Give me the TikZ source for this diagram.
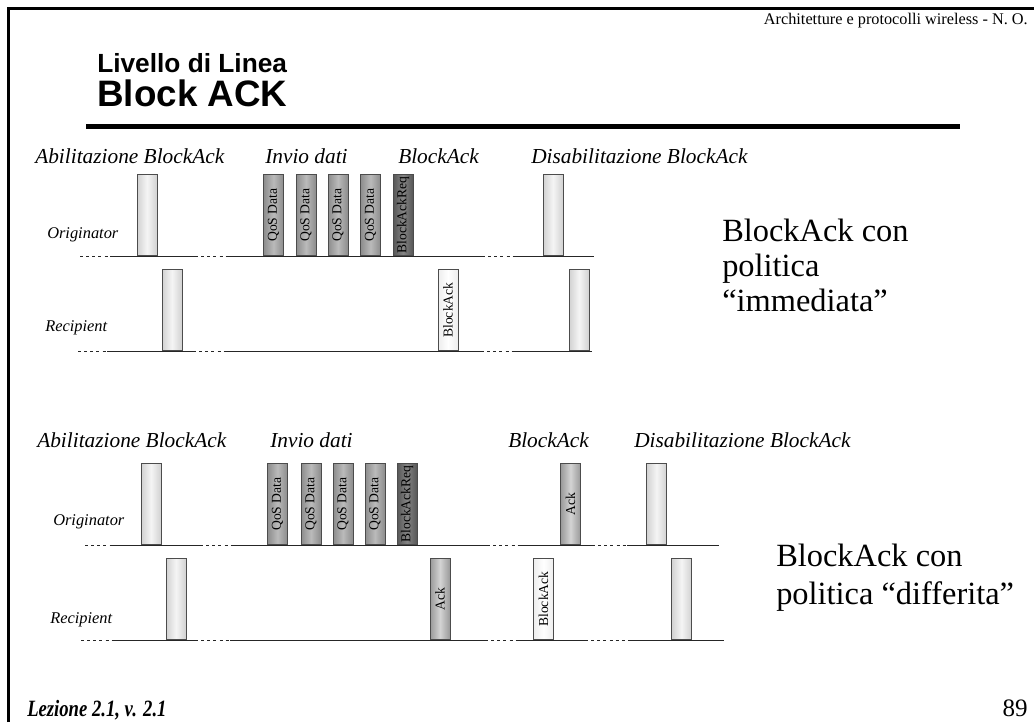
\documentclass[tikz,border=0pt]{standalone}
\usepackage{fontspec}
\setmainfont{Liberation Serif}
\newfontfamily\arialf{Liberation Sans}
\begin{document}
\begin{tikzpicture}[x=0.75pt,y=-0.75pt,
  frameline/.style={line width=1.9pt},
  tl/.style={line width=0.75pt, black!85},
  gapline/.style={tl, dash pattern=on 2.3pt off 2.3pt},
  pkt/.style={draw=black!70, line width=0.6pt, minimum width=15pt, minimum height=60.75pt, inner sep=0pt, anchor=south, font=\fontsize{10.2}{11}\selectfont},
  lightpkt/.style={pkt, left color=black!18, right color=black!18, middle color=black!4},
  qospkt/.style={pkt, left color=black!45, right color=black!45, middle color=black!27},
  barpkt/.style={pkt, left color=black!66, right color=black!66, middle color=black!48},
  whitepkt/.style={pkt, left color=black!7, right color=black!7, middle color=white},
  ackpkt/.style={pkt, left color=black!40, right color=black!40, middle color=black!17},
  sect/.style={anchor=base west, inner sep=0pt, font=\fontsize{16}{19}\selectfont\itshape},
  role/.style={anchor=west, inner sep=0pt, font=\fontsize{12.3}{14}\selectfont\itshape},
  big/.style={anchor=base west, inner sep=0pt, font=\fontsize{24.3}{28}\selectfont}
]
\useasboundingbox (0,0) rectangle (1034,722);
\fill[white] (0,0) rectangle (1034,722);
\draw[frameline] (8.5,722) -- (8.5,8.5) -- (1034,8.5);

% header and title
\node[anchor=base east, inner sep=0pt, font=\fontsize{12.2}{14}\selectfont] (hdr) at (1028,24) {Architetture e protocolli wireless - N. O.};
\node[anchor=base west, inner sep=0pt, font=\arialf\bfseries\fontsize{19.7}{22}\selectfont] (t1) at (97,72) {Livello di Linea};
\node[anchor=base west, inner sep=0pt, font=\arialf\bfseries\fontsize{27.6}{30}\selectfont] (t2) at (97,106) {Block ACK};
\draw[line width=3.75pt] (86,126.5) -- (960,126.5);

% ---------- panel 1 ----------
\node[sect] (a1) at (35,163) {Abilitazione BlockAck};
\node[sect] (i1) at (265,163) {Invio dati};
\node[sect] (b1) at (398,163) {BlockAck};
\node[sect] (d1) at (531,163) {Disabilitazione BlockAck};
\node[role] (o1) at (47,235) {Originator};
\node[role] (r1) at (45,328) {Recipient};

\draw[gapline] (80,256) -- (110,256);
\draw[tl] (110,256) -- (195,256);
\draw[gapline] (195,256) -- (228,256);
\draw[tl] (228,256) -- (482,256);
\draw[gapline] (482,256) -- (516,256);
\draw[tl] (516,256) -- (594,256);

\draw[gapline] (78,351) -- (107,351);
\draw[tl] (107,351) -- (193,351);
\draw[gapline] (193,351) -- (226,351);
\draw[tl] (226,351) -- (481,351);
\draw[gapline] (481,351) -- (512,351);
\draw[tl] (512,351) -- (592,351);

\node[lightpkt] (p1a) at (147,256) {};
\node[qospkt] (p1q1) at (273.5,256) {\rotatebox{90}{QoS Data}};
\node[qospkt] (p1q2) at (306,256) {\rotatebox{90}{QoS Data}};
\node[qospkt] (p1q3) at (338,256) {\rotatebox{90}{QoS Data}};
\node[qospkt] (p1q4) at (370.5,256) {\rotatebox{90}{QoS Data}};
\node[barpkt] (p1r) at (403,256) {\rotatebox{90}{BlockAckReq}};
\node[lightpkt] (p1d) at (553,256) {};
\node[lightpkt] (q1a) at (172,351) {};
\node[whitepkt] (q1b) at (448,351) {\rotatebox{90}{BlockAck}};
\node[lightpkt] (q1d) at (579,351) {};

\node[big] (c1a) at (722,241) {BlockAck con};
\node[big] (c1b) at (722,276) {politica};
\node[big] (c1c) at (722,311) {“immediata”};

% ---------- panel 2 ----------
\node[sect] (a2) at (37,447) {Abilitazione BlockAck};
\node[sect] (i2) at (270,447) {Invio dati};
\node[sect] (b2) at (508,447) {BlockAck};
\node[sect] (d2) at (634,447) {Disabilitazione BlockAck};
\node[role] (o2) at (53,522) {Originator};
\node[role] (r2) at (50,620) {Recipient};

\draw[gapline] (85,545) -- (113,545);
\draw[tl] (113,545) -- (200,545);
\draw[gapline] (200,545) -- (232,545);
\draw[tl] (232,545) -- (487,545);
\draw[gapline] (487,545) -- (518,545);
\draw[tl] (518,545) -- (592,545);
\draw[gapline] (592,545) -- (627,545);
\draw[tl] (627,545) -- (719,545);

\draw[gapline] (81,640) -- (113,640);
\draw[tl] (113,640) -- (195,640);
\draw[gapline] (195,640) -- (230,640);
\draw[tl] (230,640) -- (485,640);
\draw[gapline] (485,640) -- (516,640);
\draw[tl] (516,640) -- (585,640);
\draw[gapline] (585,640) -- (629,640);
\draw[tl] (629,640) -- (724,640);

\node[lightpkt] (p2a) at (151,545) {};
\node[qospkt] (p2q1) at (277.5,545) {\rotatebox{90}{QoS Data}};
\node[qospkt] (p2q2) at (311,545) {\rotatebox{90}{QoS Data}};
\node[qospkt] (p2q3) at (343,545) {\rotatebox{90}{QoS Data}};
\node[qospkt] (p2q4) at (375,545) {\rotatebox{90}{QoS Data}};
\node[barpkt] (p2r) at (407,545) {\rotatebox{90}{BlockAckReq}};
\node[ackpkt] (p2k) at (570.5,545) {\rotatebox{90}{Ack}};
\node[lightpkt] (p2d) at (656.5,545) {};
\node[lightpkt] (q2a) at (176,640) {};
\node[ackpkt] (q2k) at (440,640) {\rotatebox{90}{Ack}};
\node[whitepkt] (q2b) at (543.5,640) {\rotatebox{90}{BlockAck}};
\node[lightpkt] (q2d) at (681.5,640) {};

\node[big] (c2a) at (776,566) {BlockAck con};
\node[big] (c2b) at (776,604) {politica “differita”};

% footer
\node[anchor=base west, inner sep=0pt] (foot) at (27,716) {\scalebox{0.8}[1]{\fontsize{17.5}{19}\selectfont\bfseries\itshape Lezione 2.1, v. 2.1}};
\node[anchor=base east, inner sep=0pt, font=\fontsize{18.8}{20}\selectfont] (pg) at (1028,716) {89};
\end{tikzpicture}
\end{document}
